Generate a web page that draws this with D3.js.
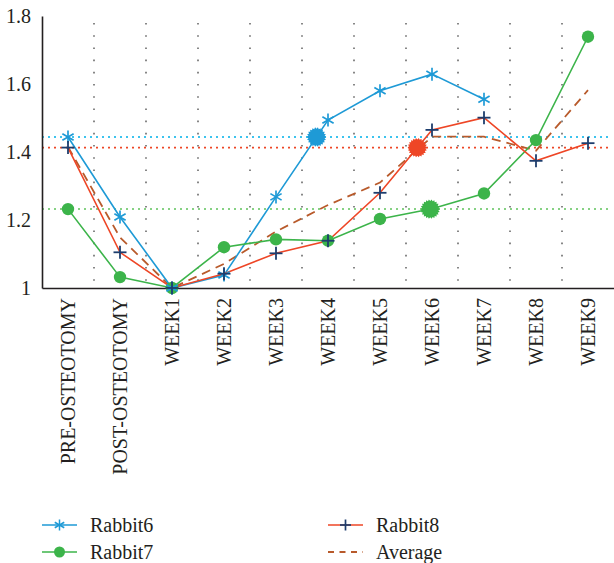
<!DOCTYPE html>
<html>
<head>
<meta charset="utf-8">
<script src="https://cdn.jsdelivr.net/npm/d3@7"></script>
<style>
  html, body { margin: 0; padding: 0; background: #fff; }
  svg { display: block; }
  text { font-family: "Liberation Serif", "Times New Roman", "DejaVu Serif", serif; fill: #231f20; }
</style>
</head>
<body>
<svg id="chart" width="614" height="563"></svg>
<script>
// Time points along the x axis
const categories = ["PRE-OSTEOTOMY", "POST-OSTEOTOMY", "WEEK1", "WEEK2", "WEEK3",
                    "WEEK4", "WEEK5", "WEEK6", "WEEK7", "WEEK8", "WEEK9"];

// Measured ratio per rabbit (null = no measurement)
const rabbit6 = [1.444, 1.209, 1.000, 1.038, 1.268, 1.494, 1.580, 1.629, 1.555, null, null];
const rabbit7 = [1.232, 1.032, 1.000, 1.120, 1.143, 1.139, 1.203, 1.233, 1.278, 1.435, 1.739];
const rabbit8 = [1.413, 1.105, 1.000, 1.042, 1.102, 1.139, 1.280, 1.465, 1.501, 1.374, 1.426];
const average = [1.415, 1.149, 1.000, 1.071, 1.166, 1.244, 1.310, 1.445, 1.445, 1.404, 1.582];

const yTicks = [1, 1.2, 1.4, 1.6, 1.8];
const seriesNames = ["Rabbit6", "Rabbit7", "Rabbit8", "Average"];

const svg = d3.select("#chart");
const plot = { left: 42, right: 614, top: 16, bottom: 288 };

const x = d3.scaleBand().domain(categories).range([plot.left, plot.right]).padding(0);
const y = d3.scaleLinear().domain([1, 1.8]).range([plot.bottom, plot.top]);
const cx = c => x(c) + x.bandwidth() / 2;

const colors = {
  blue: "#1e9ad6", blueRef: "#3cc3ee",
  green: "#3cb44a", greenRef: "#86d183",
  red: "#ee4626", redRef: "#ee4626",
  navy: "#1d3d6d", avg: "#b85a2b"
};

// Vertical dotted separators between time points
svg.append("g").selectAll("line")
  .data(categories.slice(1))
  .join("line")
  .attr("x1", d => x(d)).attr("x2", d => x(d))
  .attr("y1", 23).attr("y2", plot.bottom)
  .attr("stroke", "#555").attr("stroke-width", 1.4)
  .attr("stroke-dasharray", "1.6,10.6");

// Pre-osteotomy reference levels
const refs = [
  { v: rabbit6[0], c: colors.blueRef, w: 2 },
  { v: rabbit8[0], c: colors.redRef, w: 1.6 },
  { v: rabbit7[0], c: colors.greenRef, w: 2 }
];
svg.append("g").selectAll("line")
  .data(refs)
  .join("line")
  .attr("x1", plot.left).attr("x2", 612)
  .attr("y1", d => y(d.v)).attr("y2", d => y(d.v))
  .attr("stroke", d => d.c).attr("stroke-width", d => d.w)
  .attr("stroke-dasharray", "2,4");

// Axes
const yAxis = d3.axisLeft(y).tickValues(yTicks).tickSize(0).tickPadding(11)
  .tickFormat(d => String(d));
const gy = svg.append("g").attr("transform", `translate(${plot.left},0)`).call(yAxis);
gy.select(".domain").attr("stroke", "#231f20").attr("stroke-width", 1.6);
gy.selectAll("text").attr("font-size", 20).attr("fill", "#231f20");

const xAxis = d3.axisBottom(x).tickSize(0).tickPadding(0);
const gx = svg.append("g").attr("transform", `translate(0,${plot.bottom})`).call(xAxis);
gx.select(".domain").attr("stroke", "#231f20").attr("stroke-width", 1.6);
gx.selectAll("text")
  .attr("font-size", 20).attr("fill", "#231f20")
  .attr("text-anchor", "end")
  .attr("transform", "translate(0,10) rotate(-90)")
  .attr("x", 0).attr("y", 0).attr("dy", "0.35em");

// Lines
const line = d3.line()
  .defined(d => d.v != null)
  .x(d => cx(d.c)).y(d => y(d.v));
const toPts = arr => arr.map((v, i) => ({ c: categories[i], v }));

svg.append("path").datum(toPts(average))
  .attr("d", line).attr("fill", "none")
  .attr("stroke", colors.avg).attr("stroke-width", 1.8)
  .attr("stroke-dasharray", "9,6");

const series = [
  { data: rabbit6, color: colors.blue },
  { data: rabbit7, color: colors.green },
  { data: rabbit8, color: colors.red }
];
series.forEach(s => {
  svg.append("path").datum(toPts(s.data))
    .attr("d", line).attr("fill", "none")
    .attr("stroke", s.color).attr("stroke-width", 1.6);
});

// Marker shapes
function asterisk(g, px, py, r, color, sw) {
  [90, 30, 150].forEach(a => {
    const rad = a * Math.PI / 180;
    g.append("line")
      .attr("x1", px - r * Math.cos(rad)).attr("y1", py - r * Math.sin(rad))
      .attr("x2", px + r * Math.cos(rad)).attr("y2", py + r * Math.sin(rad))
      .attr("stroke", color).attr("stroke-width", sw);
  });
}
function plus(g, px, py, r, color, sw) {
  g.append("line").attr("x1", px - r).attr("x2", px + r).attr("y1", py).attr("y2", py)
    .attr("stroke", color).attr("stroke-width", sw);
  g.append("line").attr("x1", px).attr("x2", px).attr("y1", py - r).attr("y2", py + r)
    .attr("stroke", color).attr("stroke-width", sw);
}
function dot(g, px, py, r, color) {
  g.append("circle").attr("cx", px).attr("cy", py).attr("r", r).attr("fill", color);
}
function burst(g, px, py, color) {
  const n = 22, ro = 9.8, ri = 8.2;
  const pts = d3.range(n * 2).map(k => {
    const a = k * Math.PI / n;
    const r = k % 2 ? ri : ro;
    return [px + r * Math.cos(a), py + r * Math.sin(a)];
  });
  g.append("path").attr("d", "M" + pts.join("L") + "Z").attr("fill", color);
}

const gm = svg.append("g");
toPts(rabbit7).forEach(p => { if (p.v != null) dot(gm, cx(p.c), y(p.v), 6.2, colors.green); });
toPts(rabbit6).forEach(p => { if (p.v != null) asterisk(gm, cx(p.c), y(p.v), 6.5, colors.blue, 1.7); });
toPts(rabbit8).forEach(p => { if (p.v != null) plus(gm, cx(p.c), y(p.v), 6.5, colors.navy, 1.8); });

// Point where each series climbs back to its pre-osteotomy level
function recovery(arr) {
  const level = arr[0];
  for (let i = 2; i < arr.length - 1; i++) {
    const a = arr[i], b = arr[i + 1];
    if (a != null && b != null && a < level && b >= level) {
      const t = (level - a) / (b - a);
      const xa = cx(categories[i]), xb = cx(categories[i + 1]);
      return [xa + t * (xb - xa), y(level)];
    }
  }
  return null;
}
[[rabbit6, colors.blue], [rabbit8, colors.red], [rabbit7, colors.green]].forEach(([arr, c]) => {
  const p = recovery(arr);
  if (p) burst(gm, p[0], p[1], c);
});

// Legend
const lg = svg.append("g");
const legendItems = [
  { name: seriesNames[0], x: 42, y: 525, color: colors.blue, mark: "asterisk" },
  { name: seriesNames[1], x: 42, y: 552, color: colors.green, mark: "dot" },
  { name: seriesNames[2], x: 328, y: 525, color: colors.red, mark: "plus" },
  { name: seriesNames[3], x: 328, y: 552, color: colors.avg, mark: "dash" }
];
legendItems.forEach(it => {
  const l = lg.append("line")
    .attr("x1", it.x).attr("x2", it.x + 35).attr("y1", it.y).attr("y2", it.y)
    .attr("stroke", it.color).attr("stroke-width", it.mark === "dash" ? 1.8 : 1.5);
  if (it.mark === "dash") l.attr("stroke-dasharray", "6,5.5");
  const mx = it.x + 17.5;
  if (it.mark === "asterisk") asterisk(lg, mx, it.y, 5.5, colors.blue, 1.5);
  if (it.mark === "dot") dot(lg, mx, it.y, 5.5, colors.green);
  if (it.mark === "plus") plus(lg, mx, it.y, 5.5, colors.navy, 1.7);
  lg.append("text")
    .attr("x", it.x + 48).attr("y", it.y).attr("dy", "0.33em")
    .attr("font-size", 20).text(it.name);
});
</script>
</body>
</html>
